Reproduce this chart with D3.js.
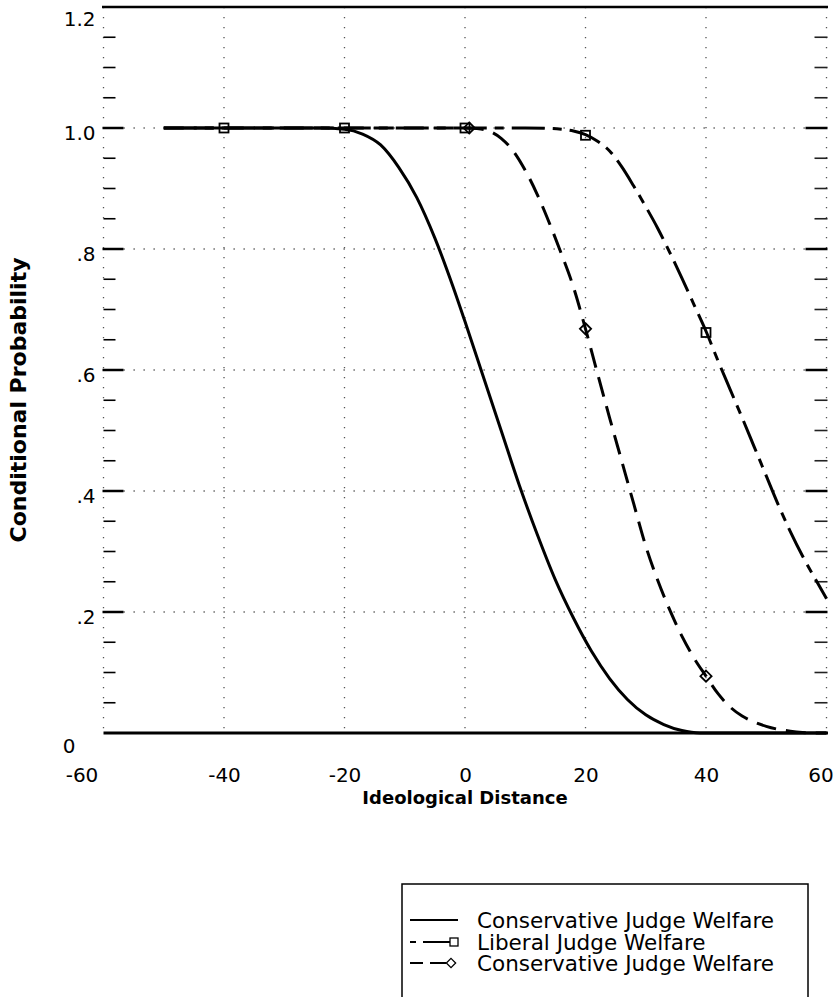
<!DOCTYPE html>
<html>
<head>
<meta charset="utf-8">
<script src="https://cdn.jsdelivr.net/npm/d3@7"></script>
<style>
  html, body { margin: 0; padding: 0; background: #fff; }
  svg { display: block; }
  text { font-family: "DejaVu Sans", Verdana, sans-serif; fill: #000; }
</style>
</head>
<body>
<svg id="chart" width="836" height="997"></svg>
<script>
// ---------- data ----------
const xTickValues = [-60, -40, -20, 0, 20, 40, 60];
const xTickLabels = ["-60", "-40", "-20", "0", "20", "40", "60"];
const yTickValues = [0, 0.2, 0.4, 0.6, 0.8, 1.0, 1.2];
const yTickLabels = ["0", ".2", ".4", ".6", ".8", "1.0", "1.2"];

const seriesNames = ["Conservative Judge Welfare", "Liberal Judge Welfare", "Conservative Judge Welfare"];

// Conservative Judge Welfare (solid)
const consSolidX = [-50, -40, -30, -24, -20, -17, -14, -11, -8, -5, -2, 0, 3, 6, 9, 12, 15, 18, 21, 24, 27, 30, 33, 36, 39, 45, 50, 60];
const consSolidY = [1, 1, 1, 1, 0.998, 0.99, 0.972, 0.935, 0.885, 0.818, 0.738, 0.68, 0.59, 0.5, 0.41, 0.328, 0.253, 0.19, 0.135, 0.09, 0.055, 0.03, 0.014, 0.004, 0, 0, 0, 0];

// Liberal Judge Welfare (dash-dot, squares)
const libX = [-50, -40, -20, 0, 10, 14, 16, 18, 20, 22, 24, 26, 28, 30, 32, 34, 36, 38, 40, 42, 44, 46, 48, 50, 52, 54, 56, 58, 60];
const libY = [1, 1, 1, 1, 1, 0.9995, 0.998, 0.995, 0.989, 0.978, 0.962, 0.936, 0.904, 0.87, 0.834, 0.794, 0.752, 0.708, 0.664, 0.615, 0.568, 0.521, 0.473, 0.425, 0.377, 0.333, 0.293, 0.257, 0.222];
const libMarkX = [-40, -20, 0, 20, 40];
const libMarkY = [1, 1, 1, 0.988, 0.662];

// Conservative Judge Welfare (dashed, diamonds)
const consDashX = [-50, -40, -20, 0, 2, 4, 6, 8, 10, 12, 14, 16, 18, 20, 22, 24, 26, 28, 30, 32, 34, 36, 38, 40, 42, 44, 46, 48, 50, 52, 54, 56, 58, 60];
const consDashY = [1, 1, 1, 1, 0.999, 0.995, 0.983, 0.962, 0.93, 0.89, 0.843, 0.792, 0.737, 0.668, 0.594, 0.521, 0.45, 0.379, 0.309, 0.252, 0.203, 0.16, 0.124, 0.094, 0.065, 0.043, 0.028, 0.018, 0.011, 0.006, 0.003, 0.001, 0, 0];
const consMarkX = [0.7, 20, 40];
const consMarkY = [1, 0.668, 0.094];

// ---------- layout ----------
const svg = d3.select("#chart");
const W = 836, H = 997;
const pLeft = 103.5, pRight = 826.5, pTop = 7, pBottom = 733;

const x = d3.scaleLinear().domain([-60, 60]).range([pLeft, pRight]);
const y = d3.scaleLinear().domain([0, 1.2]).range([pBottom, pTop]);

svg.append("rect").attr("width", W).attr("height", H).attr("fill", "#fff");

// dotted grid
const gridColor = "#555";
const gridDash = "1.3,8.7";
const vGrid = [-60, -40, -20, 0, 20, 40, 60];
svg.append("g").selectAll("line").data(vGrid).join("line")
  .attr("x1", d => x(d)).attr("x2", d => x(d))
  .attr("y1", pTop).attr("y2", pBottom)
  .attr("stroke", gridColor).attr("stroke-width", 1.3).attr("stroke-dasharray", gridDash);
const hGrid = [0.2, 0.4, 0.6, 0.8, 1.0];
svg.append("g").selectAll("line").data(hGrid).join("line")
  .attr("x1", pLeft).attr("x2", pRight)
  .attr("y1", d => y(d)).attr("y2", d => y(d))
  .attr("stroke", gridColor).attr("stroke-width", 1.3).attr("stroke-dasharray", gridDash);

// minor / major ticks on both sides (inward)
const minorVals = d3.range(1, 24).map(i => i * 0.05).filter(v => Math.abs(v * 5 - Math.round(v * 5)) > 1e-6);
const majorVals = [0.2, 0.4, 0.6, 0.8, 1.0];
const tickG = svg.append("g");
tickG.selectAll(".lmin").data(minorVals).join("line")
  .attr("x1", pLeft).attr("x2", pLeft + 12)
  .attr("y1", d => y(d)).attr("y2", d => y(d))
  .attr("stroke", "#000").attr("stroke-width", 1.6);
tickG.selectAll(".lmaj").data(majorVals).join("line")
  .attr("x1", pLeft - 1).attr("x2", pLeft + 20)
  .attr("y1", d => y(d)).attr("y2", d => y(d))
  .attr("stroke", "#000").attr("stroke-width", 2.5);
tickG.selectAll(".rmin").data(minorVals).join("line")
  .attr("x1", pRight - 12).attr("x2", pRight + 1)
  .attr("y1", d => y(d)).attr("y2", d => y(d))
  .attr("stroke", "#222").attr("stroke-width", 1.6);
tickG.selectAll(".rmaj").data(majorVals).join("line")
  .attr("x1", pRight - 21).attr("x2", pRight + 1)
  .attr("y1", d => y(d)).attr("y2", d => y(d))
  .attr("stroke", "#000").attr("stroke-width", 2.5);

// top and bottom frame lines
svg.append("line").attr("x1", pLeft - 1.5).attr("x2", pRight + 1.5)
  .attr("y1", y(1.2)).attr("y2", y(1.2))
  .attr("stroke", "#000").attr("stroke-width", 2.5);
svg.append("line").attr("x1", pLeft).attr("x2", pRight + 1.5)
  .attr("y1", y(0)).attr("y2", y(0))
  .attr("stroke", "#000").attr("stroke-width", 2.8);

// y axis labels
const yAxis = d3.axisLeft(y).tickValues(yTickValues)
  .tickFormat((d, i) => yTickLabels[i]).tickSize(0).tickPadding(8);
const yAx = svg.append("g").attr("transform", `translate(${pLeft},0)`).call(yAxis);
yAx.select(".domain").remove();
yAx.selectAll("text").style("font-size", "20px").style("font-family", "DejaVu Sans")
  .attr("dy", "0.55em")
  .each(function (d) {
    if (d === 0) d3.select(this).attr("dx", -20).attr("dy", "0.97em");
    if (d === 1.2) d3.select(this).attr("dy", "0.9em");
  });

// x axis labels
const xAxis = d3.axisBottom(x).tickValues(xTickValues)
  .tickFormat((d, i) => xTickLabels[i]).tickSize(0).tickPadding(0);
const xAx = svg.append("g").attr("transform", `translate(0,${pBottom + 42})`).call(xAxis);
xAx.select(".domain").remove();
xAx.selectAll("text").style("font-size", "20px").style("font-family", "DejaVu Sans")
  .attr("dy", "0.36em").attr("y", 0)
  .each(function (d) {
    if (d === -60) d3.select(this).attr("dx", -22);
    if (d === 60) d3.select(this).attr("dx", -6);
  });

// axis titles
svg.append("text").attr("x", x(0)).attr("y", 804)
  .attr("text-anchor", "middle").style("font-size", "18px").style("font-weight", "bold")
  .text("Ideological Distance");
svg.append("text").attr("transform", `translate(26,${400}) rotate(-90)`)
  .attr("text-anchor", "middle").style("font-size", "22px").style("font-weight", "bold")
  .text("Conditional Probability");

// ---------- lines ----------
const line = d3.line().x(d => x(d[0])).y(d => y(d[1])).curve(d3.curveMonotoneX);
const zip = (a, b) => a.map((v, i) => [v, b[i]]);
const plot = svg.append("g");

plot.append("path").datum(zip(consSolidX, consSolidY))
  .attr("d", line).attr("fill", "none").attr("stroke", "#000").attr("stroke-width", 3);
plot.append("path").datum(zip(libX, libY))
  .attr("d", line).attr("fill", "none").attr("stroke", "#000").attr("stroke-width", 3)
  .attr("stroke-dasharray", "33,8,9,8");
plot.append("path").datum(zip(consDashX, consDashY))
  .attr("d", line).attr("fill", "none").attr("stroke", "#000").attr("stroke-width", 3)
  .attr("stroke-dasharray", "20,10");

// markers
const sq = 9;
plot.selectAll(".sq").data(zip(libMarkX, libMarkY)).join("rect")
  .attr("x", d => x(d[0]) - sq / 2).attr("y", d => y(d[1]) - sq / 2)
  .attr("width", sq).attr("height", sq)
  .attr("fill", "none").attr("stroke", "#000").attr("stroke-width", 1.8);
const dia = d3.symbol().type(d3.symbolDiamond2).size(80);
plot.selectAll(".dia").data(zip(consMarkX, consMarkY)).join("path")
  .attr("d", dia).attr("transform", d => `translate(${x(d[0])},${y(d[1])})`)
  .attr("fill", "none").attr("stroke", "#000").attr("stroke-width", 1.8);

// ---------- legend ----------
const lg = svg.append("g");
lg.append("rect").attr("x", 402).attr("y", 884).attr("width", 406).attr("height", 130)
  .attr("fill", "none").attr("stroke", "#000").attr("stroke-width", 1.5);
const rowY = [920, 942, 963];
// row 1: solid
lg.append("line").attr("x1", 410).attr("x2", 458).attr("y1", rowY[0]).attr("y2", rowY[0])
  .attr("stroke", "#000").attr("stroke-width", 2);
// row 2: dash-dot + square
lg.append("line").attr("x1", 410).attr("x2", 416).attr("y1", rowY[1]).attr("y2", rowY[1])
  .attr("stroke", "#000").attr("stroke-width", 2);
lg.append("line").attr("x1", 423).attr("x2", 450).attr("y1", rowY[1]).attr("y2", rowY[1])
  .attr("stroke", "#000").attr("stroke-width", 2);
lg.append("rect").attr("x", 450).attr("y", rowY[1] - 4).attr("width", 8).attr("height", 8)
  .attr("fill", "none").attr("stroke", "#000").attr("stroke-width", 1.3);
// row 3: dashed + diamond
lg.append("line").attr("x1", 410).attr("x2", 423).attr("y1", rowY[2]).attr("y2", rowY[2])
  .attr("stroke", "#000").attr("stroke-width", 2);
lg.append("line").attr("x1", 430).attr("x2", 446).attr("y1", rowY[2]).attr("y2", rowY[2])
  .attr("stroke", "#000").attr("stroke-width", 2);
lg.append("path").attr("d", d3.symbol().type(d3.symbolDiamond2).size(55))
  .attr("transform", `translate(451,${rowY[2]})`)
  .attr("fill", "none").attr("stroke", "#000").attr("stroke-width", 1.3);
lg.selectAll(".lt").data(seriesNames).join("text")
  .attr("x", 477).attr("y", (d, i) => rowY[i]).attr("dy", "0.36em")
  .style("font-size", "21.5px").text(d => d);
</script>
</body>
</html>
